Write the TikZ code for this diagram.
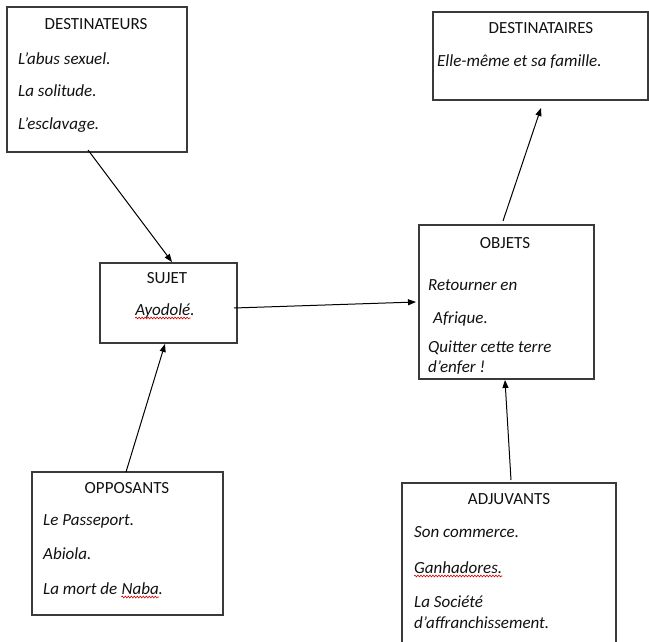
\documentclass[tikz,border=0pt]{standalone}
\usepackage{fontspec}
\setmainfont{Carlito}
\usetikzlibrary{arrows.meta,decorations.pathmorphing}
\definecolor{boxgray}{HTML}{3A3A3A}
\definecolor{inkcol}{HTML}{111111}
\begin{document}
\begin{tikzpicture}[x=1pt,y=-1pt,
  box/.style={draw=boxgray, line width=1.3pt, inner sep=0, outer sep=0, anchor=north west},
  ttl/.style={font=\fontsize{17}{20}\selectfont, text=inkcol, inner sep=0, anchor=base},
  itl/.style={font=\fontsize{17}{20}\selectfont\itshape, text=inkcol, inner sep=0, anchor=base west},
  arr/.style={draw=black, line width=1pt, -{Triangle[length=8pt,width=6pt]}},
  squig/.style={draw=red!85!black, line width=0.6pt, decorate, decoration={snake, amplitude=0.9pt, segment length=3pt}}
]
\fill[white] (0,0) rectangle (649,642);
\useasboundingbox (0,0) rectangle (649,642);

% boxes
\node[box, minimum width=180pt, minimum height=145pt] (dest) at (7,7) {};
\node[box, minimum width=215pt, minimum height=88pt] (destr) at (433,12) {};
\node[box, minimum width=137pt, minimum height=80pt] (sujet) at (100,263) {};
\node[box, minimum width=175pt, minimum height=154pt] (objets) at (419,225) {};
\node[box, minimum width=191pt, minimum height=143pt] (opp) at (32,472) {};
\node[box, minimum width=214pt, minimum height=175pt] (adj) at (402,483) {};

% DESTINATEURS
\node[ttl] (destT) at (96,30) {DESTINATEURS};
\node[itl] (dest1) at (18,65) {L’abus sexuel.};
\node[itl] (dest2) at (18,97) {La solitude.};
\node[itl] (dest3) at (18,129) {L’esclavage.};

% DESTINATAIRES
\node[ttl] (destrT) at (541,34) {DESTINATAIRES};
\node[itl] (destr1) at (437,67) {Elle-même et sa famille.};

% SUJET
\node[ttl] (sujetT) at (167,283) {SUJET};
\node[itl, anchor=base] (sujet1) at (165,315) {Ayodolé.};
\node[itl, anchor=base west] (sujet1w) at (sujet1.base west) {\phantom{Ayodolé}};

% OBJETS
\node[ttl] (objT) at (505,248) {OBJETS};
\node[itl] (obj1) at (428,290) {Retourner en};
\node[itl] (obj2) at (433,323) {Afrique.};
\node[itl] (obj3) at (428,352) {Quitter cette terre};
\node[itl] (obj4) at (428,372) {d’enfer !};

% OPPOSANTS
\node[ttl] (oppT) at (127,493) {OPPOSANTS};
\node[itl] (opp1) at (43,525) {Le Passeport.};
\node[itl] (opp2) at (43,559) {Abiola.};
\node[itl] (opp3) at (43,594) {La mort de \mbox{}};
\node[itl] (opp3b) at (opp3.base east) {Naba.};
\node[itl] (opp3w) at (opp3.base east) {\phantom{Naba}};

% ADJUVANTS
\node[ttl] (adjT) at (509,504) {ADJUVANTS};
\node[itl] (adj1) at (414,537) {Son commerce.};
\node[itl] (adj2) at (414,573) {Ganhadores.};
\node[itl] (adj3) at (414,607) {La Société};
\node[itl] (adj4) at (414,628) {d’affranchissement.};

% spell-check squiggles
\draw[squig] ([yshift=-3pt]sujet1w.base west) -- ([yshift=-3pt]sujet1w.base east);
\draw[squig] ([yshift=-3pt]opp3w.base west) -- ([yshift=-3pt]opp3w.base east);
\draw[squig] ([yshift=-3pt]adj2.base west) -- ([yshift=-3pt]adj2.base east);

% connectors
\draw[arr] ([xshift=81pt,yshift=2pt]dest.south west) -- ([xshift=72pt,yshift=1pt]sujet.north west);
\draw[arr] ([xshift=94pt]opp.north west) -- ([xshift=65pt,yshift=-1pt]sujet.south west);
\draw[arr] ([xshift=-3pt,yshift=-5pt]sujet.east) -- ([xshift=-3pt]objets.west);
\draw[arr] ([xshift=84pt,yshift=4pt]objets.north west) -- ([xshift=108pt,yshift=-8pt]destr.south west);
\draw[arr] ([xshift=109pt,yshift=3pt]adj.north west) -- ([xshift=86pt,yshift=-1pt]objets.south west);
\end{tikzpicture}
\end{document}
